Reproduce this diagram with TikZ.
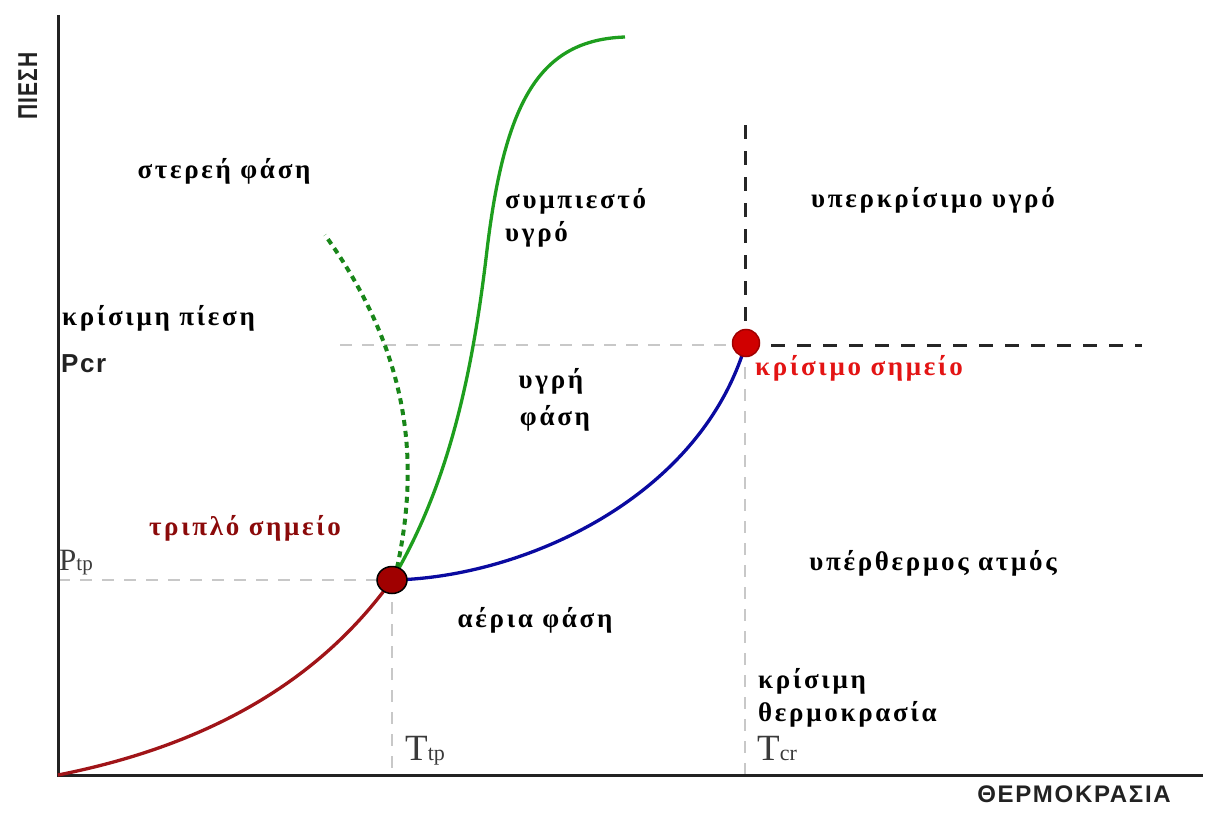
\documentclass[tikz,border=0pt]{standalone}
\usepackage{fontspec}
\usetikzlibrary{shapes.geometric}
\setmainfont{Liberation Serif}
\newfontfamily\gkb[LetterSpace=10]{Liberation Serif}
\newfontfamily\axf[LetterSpace=7]{Liberation Sans}
\newfontfamily\pcrf[LetterSpace=6]{Liberation Sans}
\definecolor{axisgray}{HTML}{222222}
\definecolor{dashgray}{HTML}{C8C8C8}
\definecolor{curvered}{HTML}{A01418}
\definecolor{curveblue}{HTML}{0A0AA0}
\definecolor{curvegreen}{HTML}{1E9E1E}
\definecolor{tpred}{HTML}{A00000}
\definecolor{cpred}{HTML}{D00000}
\definecolor{cplabel}{HTML}{E31414}
\definecolor{tplabel}{HTML}{8B0A0A}
\definecolor{symgray}{HTML}{3A3A3A}
\tikzset{
  axisline/.style={line width=3pt, color=axisgray},
  guide/.style={line width=2pt, color=dashgray, dash pattern=on 12pt off 10pt},
  guideblack/.style={line width=3pt, color=black!85, dash pattern=on 14pt off 12pt},
  curve/.style={line width=3.3pt},
  lbl/.style={font=\gkb\bfseries\fontsize{27}{30}\selectfont, inner sep=0pt, anchor=base},
  sym/.style={text=symgray, inner sep=0pt, anchor=base west},
  axlbl/.style={font=\axf\bfseries\fontsize{24}{26}\selectfont, inner sep=0pt, anchor=base, text=axisgray},
  point/.style={draw=black, line width=1.5pt, inner sep=0pt}
}
\begin{document}
\begin{tikzpicture}[x=1pt, y=-1pt]
\useasboundingbox (0,0) rectangle (1205,816);
% key coordinates
\coordinate (O) at (58,775);
\coordinate (ytop) at (58,15);
\coordinate (xend) at (1203,775);
\coordinate (tpc) at (392,580);
\coordinate (cpc) at (746,343);
\coordinate (ptpl) at (58,580);
\coordinate (pcrl) at (340,345);
\coordinate (tpb) at (392,775);
\coordinate (cpb) at (745,775);
\coordinate (cptop) at (745,125);
\coordinate (cpright) at (1142,345);
\coordinate (cpv) at (745,345);
\coordinate (gtop) at (625,37);
\coordinate (gmid) at (487,250);
\coordinate (dtop) at (325,235);
\coordinate (dbot) at (397,568);
\coordinate (gbot) at (395,575);
% guides
\draw[guide] (ptpl) -- (tpc);
\draw[guide] (tpc) -- (tpb);
\draw[guide] (pcrl) -- (cpv);
\draw[guide] (cpv) -- (cpb);
\draw[guideblack] (cptop) -- (cpv);
\draw[guideblack] (cpv) -- (cpright);
% axes
\draw[axisline] (ytop) -- (O) -- (xend);
% curves
\draw[curve, curvered] (O) .. controls (210,745) and (320,680) .. (tpc);
\draw[curve, curveblue] (tpc) .. controls (520,578) and (700,500) .. (cpc);
\draw[curve, curvegreen] (gbot) .. controls (450,480) and (473,370) .. (gmid)
   .. controls (505,100) and (540,40) .. (gtop);
\draw[curve, curvegreen!85!black, line width=4pt, dash pattern=on 6pt off 5pt] (dbot) .. controls (418,470) and (415,360) .. (dtop);
% points
\node[point, ellipse, fill=tpred, minimum width=30pt, minimum height=27pt] (tp) at (tpc) {};
\node[point, circle, fill=cpred, draw=tpred, minimum size=27pt] (cp) at (cpc) {};
% labels
\node[lbl] (solid) at (224,178) {στερεή φάση};
\node[lbl, anchor=base west] (comp1) at (505,208) {συμπιεστό};
\node[lbl, anchor=base west] (comp2) at (505,241) {υγρό};
\node[lbl] (super) at (933,207) {υπερκρίσιμο υγρό};
\node[lbl, anchor=base west] (pcrtext) at (62,325) {κρίσιμη πίεση};
\node[font=\pcrf\bfseries\fontsize{26}{28}\selectfont, inner sep=0pt, anchor=base west, text=axisgray] (pcr) at (61,372) {Pcr};
\node[lbl] (liq1) at (551,388) {υγρή};
\node[lbl] (liq2) at (555,425) {φάση};
\node[lbl, anchor=base west, text=cplabel] (cplbl) at (755,375) {κρίσιμο σημείο};
\node[lbl, text=tplabel] (tplbl) at (245,535) {τριπλό σημείο};
\node[sym, font=\fontsize{31}{32}\selectfont] (ptp) at (59,570) {P\fontsize{21}{22}\selectfont tp};
\node[lbl] (vap) at (933,570) {υπέρθερμος ατμός};
\node[lbl] (gas) at (535,627) {αέρια φάση};
\node[lbl, anchor=base west] (tcr1) at (758,688) {κρίσιμη};
\node[lbl, anchor=base west] (tcr2) at (758,721) {θερμοκρασία};
\node[sym, font=\fontsize{37}{38}\selectfont] (ttp) at (405,760) {T\fontsize{22}{22}\selectfont tp};
\node[sym, font=\fontsize{37}{38}\selectfont] (tcr) at (757,760) {T\fontsize{22}{22}\selectfont cr};
\node[axlbl] (xlab) at (1074,802) {ΘΕΡΜΟΚΡΑΣΙΑ};
\node[font=\pcrf\bfseries\fontsize{21}{24}\selectfont, inner sep=0pt, anchor=base, text=axisgray, rotate=90, yscale=1.3] (ylab) at (37,86) {ΠΙΕΣΗ};
\end{tikzpicture}
\end{document}
